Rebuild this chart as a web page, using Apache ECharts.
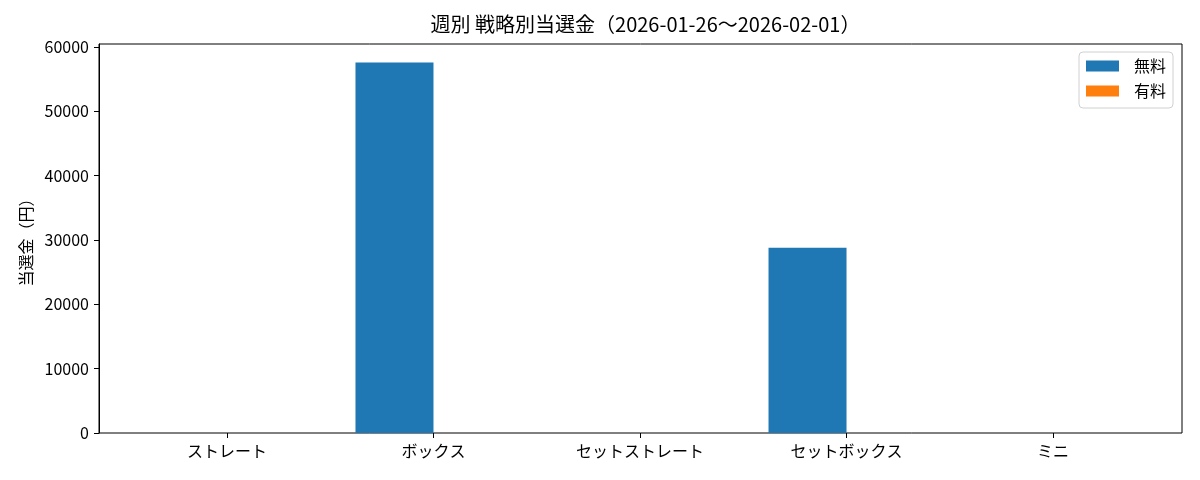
<!DOCTYPE html>
<html>
<head>
<meta charset="utf-8">
<script src="https://cdn.jsdelivr.net/npm/echarts@6/dist/echarts.min.js"></script>
<style>html,body{margin:0;padding:0;background:#fff}#c{width:1200px;height:480px}</style>
</head>
<body>
<div id="c"></div>
<script>
const categories = ['ストレート', 'ボックス', 'セットストレート', 'セットボックス', 'ミニ'];
const freeValues = [0, 57600, 0, 28800, 0];
const paidValues = [0, 0, 0, 0, 0];
const seriesNames = ['無料', '有料'];
const titleText = '週別 戦略別当選金（2026-01-26〜2026-02-01）';
const yAxisName = '当選金（円）';
const yMax = 60480;
const yInterval = 10000;

const FONT = 'Noto Sans CJK JP';
const chart = echarts.init(document.getElementById('c'), null, {renderer: 'canvas'});
chart.setOption({
  animation: false,
  textStyle: {fontFamily: FONT},
  title: {
    text: titleText,
    left: 640.5, top: 9, textAlign: 'center',
    textStyle: {fontFamily: FONT, fontSize: 20, fontWeight: 'normal', color: '#000'}
  },
  legend: {
    data: seriesNames,
    orient: 'vertical',
    right: 27, top: 52,
    itemWidth: 33, itemHeight: 11, itemGap: 9,
    padding: [6, 7, 9, 7],
    borderColor: '#d0d0d0', borderWidth: 1, borderRadius: 4,
    backgroundColor: 'rgba(255,255,255,0.8)',
    icon: 'rect',
    textStyle: {fontFamily: FONT, fontSize: 16, color: '#000', padding: [0, 0, 0, 10]}
  },
  grid: [
    {left: 99, right: 18, top: 44, bottom: 47, show: true, borderColor: '#000', borderWidth: 1, backgroundColor: 'transparent', containLabel: false},
    {left: 123.7, right: 43.7, top: 44, bottom: 47, containLabel: false}
  ],
  xAxis: [
    {type: 'value', gridIndex: 0, show: false, min: 0, max: 1},
    {
      type: 'category', gridIndex: 1, data: categories,
      axisLine: {show: false},
      axisTick: {show: true, alignWithLabel: true, length: 5, lineStyle: {color: '#000'}},
      axisLabel: {fontFamily: FONT, fontSize: 16, color: '#000', margin: 10},
      splitLine: {show: false}
    }
  ],
  yAxis: [
    {
      type: 'value', gridIndex: 0, min: 0, max: yMax, interval: yInterval,
      name: yAxisName, nameLocation: 'middle', nameGap: 62,
      nameTextStyle: {fontFamily: FONT, fontSize: 16, color: '#000'},
      axisLine: {show: true, lineStyle: {color: '#000'}},
      axisTick: {show: true, length: 5, lineStyle: {color: '#000'}},
      axisLabel: {
        fontFamily: FONT, fontSize: 16, color: '#000', margin: 10,
        showMaxLabel: false,
        formatter: v => (v % yInterval === 0 ? String(v) : '')
      },
      splitLine: {show: false}
    },
    {type: 'value', gridIndex: 1, min: 0, max: yMax, show: false, splitLine: {show: false}}
  ],
  series: [
    {name: seriesNames[0], type: 'bar', xAxisIndex: 1, yAxisIndex: 1, data: freeValues, barWidth: 78, barGap: '0%', itemStyle: {color: '#1f77b4'}},
    {name: seriesNames[1], type: 'bar', xAxisIndex: 1, yAxisIndex: 1, data: paidValues, barWidth: 78, barGap: '0%', itemStyle: {color: '#ff7f0e'}}
  ]
});
</script>
</body>
</html>
